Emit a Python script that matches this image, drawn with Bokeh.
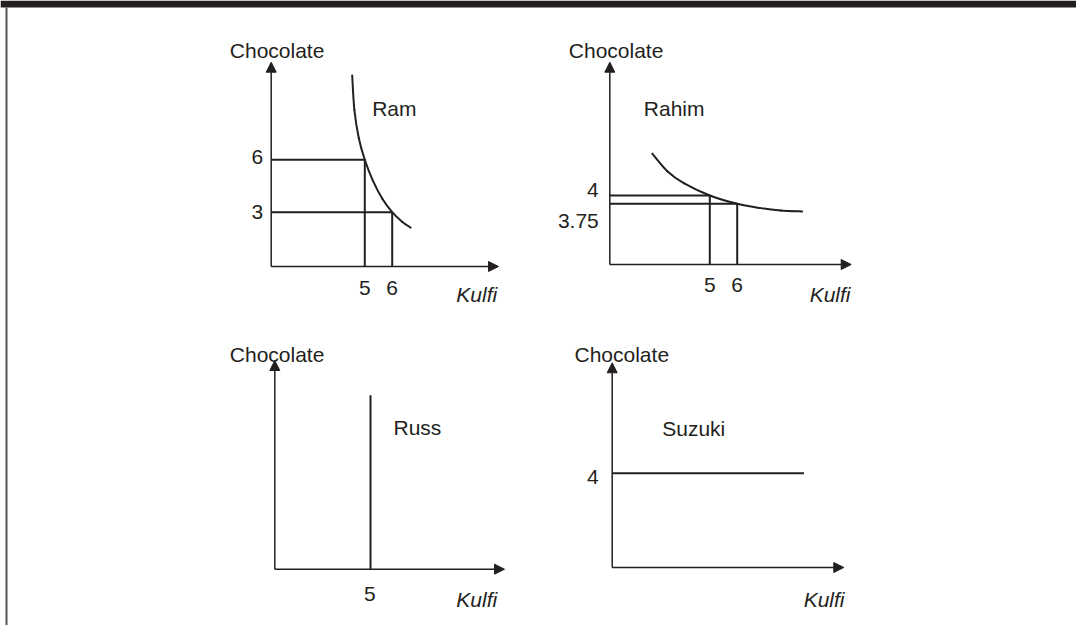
from bokeh.plotting import figure
from bokeh.models import Range1d, Arrow, NormalHead
from bokeh.core.properties import value
from bokeh.embed import file_html
from bokeh.resources import INLINE

# ---- data: indifference curves and bundles for four consumers ----
ram_curve_kulfi = [4.54, 4.62, 4.78, 5.0, 5.29, 5.64, 6.0, 6.36, 6.67]
ram_curve_chocolate = [10.83, 8.85, 7.25, 6.0, 4.82, 3.77, 3.0, 2.46, 2.12]
ram_bundle_kulfi = [5, 6]
ram_bundle_chocolate = [6, 3]

rahim_curve_kulfi = [2.90, 3.45, 4.05, 5.0, 6.0, 6.85, 7.58, 8.37]
rahim_curve_chocolate = [5.26, 4.73, 4.37, 4.0, 3.75, 3.62, 3.55, 3.52]
rahim_bundle_kulfi = [5, 6]
rahim_bundle_chocolate = [4, 3.75]

russ_kulfi = 5
russ_chocolate_extent = [0, 10]

suzuki_chocolate = 4
suzuki_kulfi_extent = [0, 7]

x_title = "Kulfi"
y_title = "Chocolate"

# ---- page geometry ----
W, H = 1076, 625
INK = "#231f20"
FONT = value("Liberation Sans")
FS = "21px"

p = figure(width=W, height=H, x_range=Range1d(0, W), y_range=Range1d(H, 0),
           output_backend="svg", toolbar_location=None, min_border=0,
           x_axis_location=None, y_axis_location=None)
p.grid.visible = False
p.outline_line_color = None
p.background_fill_color = "white"
p.border_fill_color = "white"

# header band and left rule
p.quad(left=[0], right=[W], top=[0], bottom=[7], fill_color=INK, line_color=None)
p.segment(x0=[6], y0=[7], x1=[6], y1=[H], line_color="#555555", line_width=2)


def frame_range(anchor_value, anchor_px, ppu, size, downward=False):
    """Range spanning the whole frame so that anchor_value sits at anchor_px."""
    if downward:
        return Range1d(anchor_value - (size - anchor_px) / ppu, anchor_value + anchor_px / ppu)
    return Range1d(anchor_value - anchor_px / ppu, anchor_value + (size - anchor_px) / ppu)


# per-panel placement: axis origin, arrow tips, scale anchors
panels = {
    "ram":    dict(ox=270.7, oy=266.0, xtip=498.0, ytip=61.7, xa=(5, 364.3), sx=27.4, ya=(6, 159.3), sy=17.47),
    "rahim":  dict(ox=609.3, oy=264.0, xtip=850.7, ytip=61.7, xa=(5, 709.3), sx=27.4, ya=(4, 195.0), sy=33.2),
    "russ":   dict(ox=274.3, oy=568.7, xtip=504.0, ytip=360.0, xa=(5, 370.0), sx=27.4, ya=(0, 568.7), sy=17.4),
    "suzuki": dict(ox=611.7, oy=567.0, xtip=843.3, ytip=362.3, xa=(0, 611.7), sx=27.4, ya=(4, 472.7), sy=23.6),
}

origin = {}
for name, g in panels.items():
    p.extra_x_ranges[name + "_x"] = frame_range(g["xa"][0], g["xa"][1], g["sx"], W)
    p.extra_y_ranges[name + "_y"] = frame_range(g["ya"][0], g["ya"][1], g["sy"], H, downward=True)
    x0 = g["xa"][0] + (g["ox"] - g["xa"][1]) / g["sx"]
    y0 = g["ya"][0] + (g["ya"][1] - g["oy"]) / g["sy"]
    origin[name] = (x0, y0)
    # axes with arrow heads
    for xe, ye in ((g["xtip"], g["oy"]), (g["ox"], g["ytip"])):
        p.add_layout(Arrow(x_start=g["ox"], y_start=g["oy"], x_end=xe, y_end=ye,
                           line_color=INK, line_width=1.5,
                           end=NormalHead(size=10, fill_color=INK, line_color=INK, line_width=1)))


def rn(name):
    return dict(x_range_name=name + "_x", y_range_name=name + "_y")


def smooth_curve(name, xs, ys):
    """Draw a smooth curve through the given points as Catmull-Rom cubic segments."""
    n = len(xs)
    px = [xs[0]] + list(xs) + [xs[-1]]
    py = [ys[0]] + list(ys) + [ys[-1]]
    seg = dict(x0=[], y0=[], x1=[], y1=[], cx0=[], cy0=[], cx1=[], cy1=[])
    for i in range(1, n):
        seg["x0"].append(px[i]); seg["y0"].append(py[i])
        seg["x1"].append(px[i + 1]); seg["y1"].append(py[i + 1])
        seg["cx0"].append(px[i] + (px[i + 1] - px[i - 1]) / 6)
        seg["cy0"].append(py[i] + (py[i + 1] - py[i - 1]) / 6)
        seg["cx1"].append(px[i + 1] - (px[i + 2] - px[i]) / 6)
        seg["cy1"].append(py[i + 1] - (py[i + 2] - py[i]) / 6)
    p.bezier(line_color=INK, line_width=2, line_cap="round", **seg, **rn(name))


def label(name, xs, ys, texts, align, dx, dy, style="normal"):
    kw = rn(name) if name else {}
    p.text(x=xs, y=ys, text=texts, text_font=FONT, text_font_size=FS,
           text_font_style=style, text_color=INK, text_align=align,
           text_baseline="alphabetic", x_offset=dx, y_offset=dy, **kw)


def fmt(v):
    return f"{v:g}"


# ---- Ram and Rahim: curve plus two bundles with guide lines ----
for name, ck, cc, bk, bc in (
    ("ram", ram_curve_kulfi, ram_curve_chocolate, ram_bundle_kulfi, ram_bundle_chocolate),
    ("rahim", rahim_curve_kulfi, rahim_curve_chocolate, rahim_bundle_kulfi, rahim_bundle_chocolate),
):
    x0, y0 = origin[name]
    smooth_curve(name, ck, cc)
    p.segment(x0=[x0] * len(bk), y0=bc, x1=bk, y1=bc, line_color=INK, line_width=2, **rn(name))
    p.segment(x0=bk, y0=[y0] * len(bk), x1=bk, y1=bc, line_color=INK, line_width=2, **rn(name))
    label(name, bk, [y0] * len(bk), [fmt(v) for v in bk], "center", 0, 21 if name == "ram" else 20)

x0, y0 = origin["ram"]
label("ram", [x0], [ram_bundle_chocolate[0]], [fmt(ram_bundle_chocolate[0])], "right", -8, -2.6)
label("ram", [x0], [ram_bundle_chocolate[1]], [fmt(ram_bundle_chocolate[1])], "right", -8, 0)

x0, y0 = origin["rahim"]
label("rahim", [x0], [rahim_bundle_chocolate[0]], [fmt(rahim_bundle_chocolate[0])], "right", -11, -5.7)
label("rahim", [x0], [rahim_bundle_chocolate[1]], [fmt(rahim_bundle_chocolate[1])], "right", -11, 16.7)

# ---- Russ: vertical indifference line ----
x0, y0 = origin["russ"]
p.segment(x0=[russ_kulfi], y0=[russ_chocolate_extent[0]], x1=[russ_kulfi], y1=[russ_chocolate_extent[1]],
          line_color=INK, line_width=2, **rn("russ"))
label("russ", [russ_kulfi], [y0], [fmt(russ_kulfi)], "center", -0.7, 24.6)

# ---- Suzuki: horizontal indifference line ----
x0, y0 = origin["suzuki"]
p.segment(x0=[suzuki_kulfi_extent[0]], y0=[suzuki_chocolate], x1=[suzuki_kulfi_extent[1]], y1=[suzuki_chocolate],
          line_color=INK, line_width=2, **rn("suzuki"))
label("suzuki", [x0], [suzuki_chocolate], [fmt(suzuki_chocolate)], "right", -13.4, 4)

# ---- titles and names ----
label(None, [229.3, 568.3, 229.3, 574.0], [50, 50, 354, 354], [y_title] * 4, "left", 0, 0)
label(None, [496.7, 850.0, 496.7, 844.0], [294, 294, 599, 598.5], [x_title] * 4, "right", 0, 0, style="italic")
label(None, [371.7, 643.3, 393.0, 661.7], [107.5, 107.5, 427.0, 427.5],
      ["Ram", "Rahim", "Russ", "Suzuki"], "left", 0, 0)

open("out.html", "w").write(file_html(p, INLINE))
